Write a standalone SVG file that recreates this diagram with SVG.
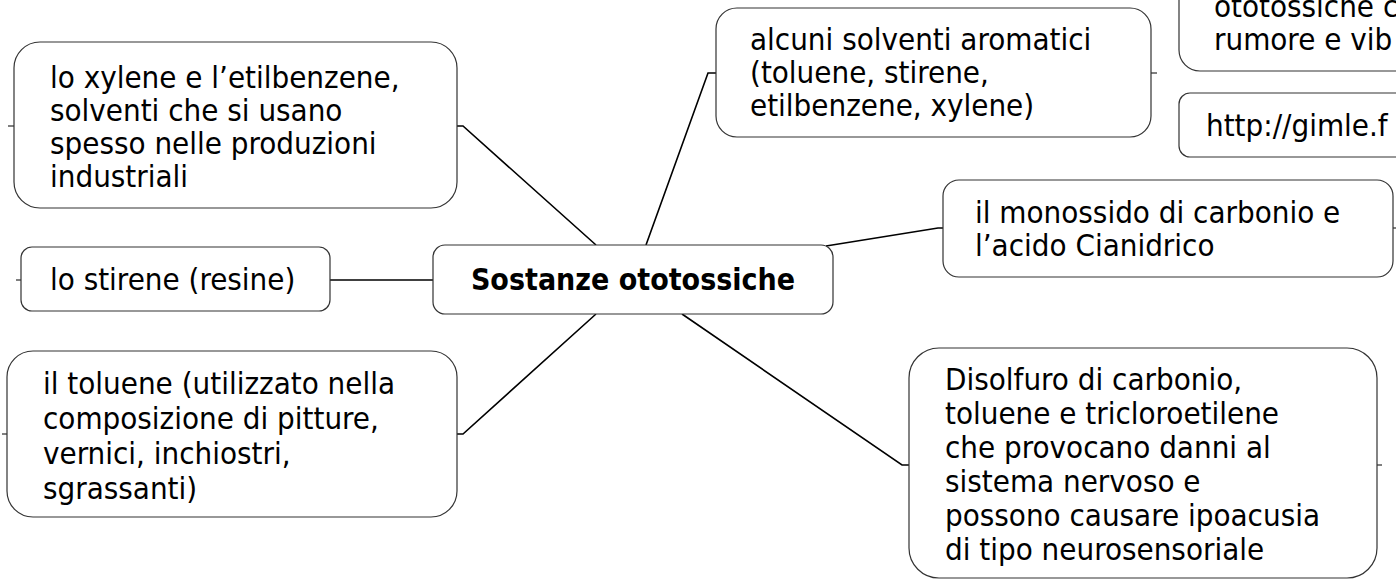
<svg xmlns="http://www.w3.org/2000/svg" width="1396" height="580" viewBox="0 0 1396 580">
  <style>
    .box { fill: #ffffff; stroke: #333333; stroke-width: 1.2; }
    .lbl { font-family: "DejaVu Sans Condensed", "DejaVu Sans", sans-serif; font-stretch: condensed; font-size: 31px; fill: #000000; }
    .title { font-weight: bold; font-size: 30px; text-anchor: middle; }
    .wire { fill: none; stroke: #000000; stroke-width: 1.6; stroke-linejoin: miter; }
    .stub { fill: none; stroke: #000000; stroke-width: 1; }
  </style>
  <rect width="1396" height="580" fill="#ffffff"/>

  <!-- connectors -->
  <g id="connectors">
    <polyline class="wire" points="457,126 463,126 596,245"/>
    <line class="stub" x1="8" y1="126" x2="14" y2="126"/>
    <line class="wire" x1="330" y1="280" x2="433" y2="280"/>
    <line class="stub" x1="16" y1="280" x2="21" y2="280"/>
    <polyline class="wire" points="457,434 463,434 596,314"/>
    <line class="stub" x1="2" y1="434" x2="7" y2="434"/>
    <polyline class="wire" points="646,245 708,73 716,73"/>
    <line class="stub" x1="1151" y1="73" x2="1157" y2="73"/>
    <polyline class="wire" points="826,246 938,228 943,228"/>
    <line class="stub" x1="1393" y1="228" x2="1396" y2="228"/>
    <polyline class="wire" points="682,314 902,465 909,465"/>
    <line class="stub" x1="1377" y1="465" x2="1382" y2="465"/>
  </g>

  <!-- central topic -->
  <g id="node-center">
    <rect class="box" x="433" y="245" width="400" height="69" rx="12"/>
    <text class="lbl title" x="633" y="290">Sostanze ototossiche</text>
  </g>

  <g id="node-xylene">
    <rect class="box" x="14" y="42" width="443" height="166" rx="26"/>
    <text class="lbl">
      <tspan x="50" y="88">lo xylene e l’etilbenzene,</tspan>
      <tspan x="50" y="121">solventi che si usano</tspan>
      <tspan x="50" y="154">spesso nelle produzioni</tspan>
      <tspan x="50" y="187">industriali</tspan>
    </text>
  </g>

  <g id="node-stirene">
    <rect class="box" x="21" y="247" width="309" height="64" rx="11"/>
    <text class="lbl" x="50" y="290">lo stirene (resine)</text>
  </g>

  <g id="node-toluene">
    <rect class="box" x="7" y="351" width="450" height="166" rx="26"/>
    <text class="lbl">
      <tspan x="43" y="394">il toluene (utilizzato nella</tspan>
      <tspan x="43" y="429">composizione di pitture,</tspan>
      <tspan x="43" y="464">vernici, inchiostri,</tspan>
      <tspan x="43" y="499">sgrassanti)</tspan>
    </text>
  </g>

  <g id="node-aromatici">
    <rect class="box" x="716" y="8" width="435" height="129" rx="21"/>
    <text class="lbl">
      <tspan x="750" y="50">alcuni solventi aromatici</tspan>
      <tspan x="750" y="83">(toluene, stirene,</tspan>
      <tspan x="750" y="116">etilbenzene, xylene)</tspan>
    </text>
  </g>

  <g id="node-rumore">
    <rect class="box" x="1179" y="-58" width="260" height="129" rx="21"/>
    <text class="lbl">
      <tspan x="1214" y="17">ototossiche c</tspan>
      <tspan x="1214" y="50">rumore e vib</tspan>
    </text>
  </g>

  <g id="node-link">
    <rect class="box" x="1179" y="93" width="260" height="64" rx="11"/>
    <text class="lbl" x="1206" y="136">http://gimle.f</text>
  </g>

  <g id="node-monossido">
    <rect class="box" x="943" y="180" width="450" height="97" rx="16"/>
    <text class="lbl">
      <tspan x="975" y="223">il monossido di carbonio e</tspan>
      <tspan x="975" y="256">l’acido Cianidrico</tspan>
    </text>
  </g>

  <g id="node-disolfuro">
    <rect class="box" x="909" y="348" width="468" height="230" rx="30"/>
    <text class="lbl">
      <tspan x="945" y="390">Disolfuro di carbonio,</tspan>
      <tspan x="945" y="424">toluene e tricloroetilene</tspan>
      <tspan x="945" y="458">che provocano danni al</tspan>
      <tspan x="945" y="492">sistema nervoso e</tspan>
      <tspan x="945" y="526">possono causare ipoacusia</tspan>
      <tspan x="945" y="560">di tipo neurosensoriale</tspan>
    </text>
  </g>
</svg>
